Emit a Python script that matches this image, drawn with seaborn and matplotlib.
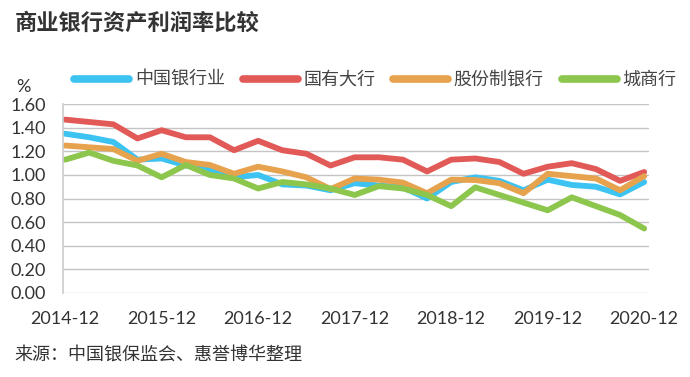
import pandas as pd
import numpy as np
import matplotlib
matplotlib.use('Agg')
import matplotlib.pyplot as plt
import seaborn as sns

sns.set_theme(style='white')
plt.rcParams['font.family'] = ['Lato', 'Noto Sans CJK SC', 'DejaVu Sans']
plt.rcParams['axes.unicode_minus'] = False

# 2014-12 ~ 2020-12 季度数据
quarters = ['2014-12', '2015-03', '2015-06', '2015-09', '2015-12', '2016-03', '2016-06', '2016-09',
            '2016-12', '2017-03', '2017-06', '2017-09', '2017-12', '2018-03', '2018-06', '2018-09',
            '2018-12', '2019-03', '2019-06', '2019-09', '2019-12', '2020-03', '2020-06', '2020-09',
            '2020-12']
tick_labels = ['2014-12', '2015-12', '2016-12', '2017-12', '2018-12', '2019-12', '2020-12']

bank_all = [1.35, 1.32, 1.28, 1.13, 1.14, 1.08, 1.05, 0.98, 1.00, 0.92, 0.91, 0.87, 0.93,
            0.91, 0.895, 0.80, 0.94, 0.98, 0.95, 0.87, 0.96, 0.915, 0.90, 0.835, 0.94]
big_state = [1.47, 1.45, 1.43, 1.31, 1.38, 1.32, 1.32, 1.21, 1.29, 1.21, 1.18, 1.08, 1.15,
             1.15, 1.13, 1.03, 1.13, 1.14, 1.11, 1.01, 1.07, 1.10, 1.05, 0.95, 1.025]
joint_stock = [1.25, 1.235, 1.22, 1.12, 1.18, 1.11, 1.085, 1.01, 1.07, 1.03, 0.98, 0.88, 0.97,
               0.96, 0.935, 0.845, 0.96, 0.957, 0.93, 0.845, 1.01, 0.99, 0.97, 0.87, 0.99]
city_bank = [1.13, 1.19, 1.12, 1.08, 0.98, 1.085, 1.00, 0.97, 0.885, 0.94, 0.92, 0.885, 0.83,
             0.905, 0.885, 0.83, 0.735, 0.895, 0.83, 0.765, 0.70, 0.81, 0.735, 0.66, 0.545]

names = ['中国银行业', '国有大行', '股份制银行', '城商行']
colors = ['#3cc3f2', '#e25a57', '#e6a24d', '#8cc64d']

frames = []
for name, vals in zip(names, [bank_all, big_state, joint_stock, city_bank]):
    frames.append(pd.DataFrame({'idx': range(len(quarters)), 'quarter': quarters,
                                'value': vals, 'series': name}))
df = pd.concat(frames, ignore_index=True)

fig = plt.figure(figsize=(6.9, 3.77), dpi=100)
ax = fig.add_axes([0.0909, 0.2236, 0.8497, 0.4997])

sns.lineplot(data=df, x='idx', y='value', hue='series', hue_order=names,
             palette=colors, linewidth=4.2, ax=ax, legend=False,
             solid_capstyle='round', solid_joinstyle='round')

ax.set_xlim(-0.1, 24.2)
ax.set_ylim(0, 1.6)
ax.set_yticks(np.arange(0, 1.61, 0.2))
ax.set_yticklabels([f'{v:.2f}' for v in np.arange(0, 1.61, 0.2)])
ax.set_xticks([quarters.index(t) for t in tick_labels])
ax.set_xticklabels(tick_labels)
ax.tick_params(axis='both', length=0, labelsize=13, colors='#333333')
ax.tick_params(axis='x', pad=13)
ax.tick_params(axis='y', pad=12)
ax.set_xlabel('')
ax.set_ylabel('')
ax.grid(axis='y', color='#c4c4c4', linewidth=1)
for s in ['top', 'right', 'bottom']:
    ax.spines[s].set_visible(False)
ax.spines['left'].set_color('#cccccc')
ax.spines['left'].set_linewidth(1.2)

handles = [plt.Line2D([], [], color=c, linewidth=5.5, solid_capstyle='round') for c in colors]
fig.legend(handles, names, loc='center', bbox_to_anchor=(0.544, 0.788), ncol=4,
           frameon=False, handlelength=3.05, handletextpad=0.3, columnspacing=1.0,
           prop={'family': ['Noto Sans CJK SC'], 'size': 13}, labelcolor='#444444')

fig.text(0.021, 0.939, '商业银行资产利润率比较', fontsize=16, fontweight='bold',
         family=['Noto Sans CJK SC'], color='#333333', va='center')
fig.text(0.024, 0.77, '%', fontsize=13, color='#333333', va='center')
fig.text(0.021, 0.058, '来源：中国银保监会、惠誉博华整理', fontsize=13,
         family=['Noto Sans CJK SC'], color='#333333', va='center')

fig.savefig('out.png', dpi=100)
